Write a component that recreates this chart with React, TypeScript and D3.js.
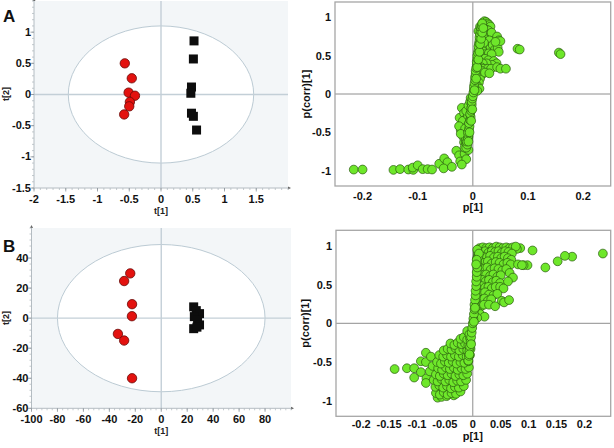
import React from 'react';
import * as d3 from 'd3';

type P = [number, number];

// ---------- Panel A : score plot ----------
const scoreATicksX = [-2, -1.5, -1, -0.5, 0, 0.5, 1, 1.5];
const scoreATicksY = [-1.5, -1, -0.5, 0, 0.5, 1];
const scoreARed: P[] = [
  [-0.57, 0.5], [-0.46, 0.26], [-0.51, 0.03], [-0.41, -0.02], [-0.49, -0.12], [-0.5, -0.19], [-0.58, -0.32],
];
const scoreABlack: P[] = [
  [0.52, 0.86], [0.51, 0.57], [0.48, 0.12], [0.47, 0.02], [0.48, -0.3], [0.51, -0.35], [0.56, -0.57],
];

// ---------- Panel B : score plot ----------
const scoreBTicksX = [-100, -80, -60, -40, -20, 0, 20, 40, 60, 80];
const scoreBTicksY = [-60, -40, -20, 0, 20, 40];
const scoreBRed: P[] = [
  [-23.9, 29.8], [-28.6, 24.7], [-22.5, 9.3], [-22.6, 1.3], [-33.4, -10.5], [-28.6, -14.9], [-22.5, -40],
];
const scoreBBlack: P[] = [
  [25, 7.5], [27, 5], [29.5, 3], [25.5, 1], [28, -1.5], [29.5, -4.5], [25, -7], [27.5, -6],
];

// ---------- Panel A : loadings S-plot ----------
const loadTicksAX = [-0.2, -0.1, 0, 0.1, 0.2];
const loadTicksY = [-1, -0.5, 0, 0.5, 1];
const loadingsA: P[] = [
  // lower tail
  [-0.216, -0.986], [-0.2, -0.985], [-0.144, -0.99], [-0.132, -0.98], [-0.117, -0.985], [-0.108, -0.99],
  [-0.109, -0.96], [-0.1, -0.93], [-0.091, -0.98], [-0.082, -0.98], [-0.074, -0.985], [-0.061, -0.91],
  [-0.052, -0.84], [-0.046, -0.89], [-0.053, -0.97], [-0.038, -0.95], [-0.03, -0.74], [-0.025, -0.8],
  [-0.023, -0.88], [-0.015, -0.78], [-0.008, -0.73], [-0.012, -0.85], [-0.02, -0.92],
  // negative middle
  [-0.024, -0.31], [-0.02, -0.18], [-0.019, -0.4], [-0.022, -0.47], [-0.014, -0.5], [-0.016, -0.63],
  [-0.013, -0.66], [-0.008, -0.56], [-0.016, -0.25], [-0.012, -0.32], [-0.018, -0.35], [-0.01, -0.42],
  [-0.025, -0.42], [-0.014, -0.45], [-0.011, -0.54], [-0.017, -0.56], [-0.013, -0.6], [-0.022, -0.52],
  [-0.009, -0.28], [-0.006, -0.2], [-0.012, -0.22], [-0.008, -0.15], [-0.005, -0.1], [-0.004, -0.05],
  [-0.015, -0.7],
  // upper spread
  [0.081, 0.59], [0.085, 0.58], [0.156, 0.54], [0.159, 0.52],
  [0.018, 0.93], [0.021, 0.95], [0.024, 0.94], [0.027, 0.92], [0.022, 0.9], [0.026, 0.88], [0.03, 0.9],
  [0.032, 0.88], [0.02, 0.85], [0.024, 0.84], [0.028, 0.83], [0.019, 0.8], [0.023, 0.78], [0.027, 0.76],
  [0.031, 0.78], [0.035, 0.76], [0.038, 0.74], [0.034, 0.8], [0.044, 0.75], [0.047, 0.7], [0.021, 0.72],
  [0.025, 0.68], [0.03, 0.7], [0.017, 0.68], [0.02, 0.62], [0.026, 0.62], [0.032, 0.6], [0.036, 0.64],
  [0.04, 0.58], [0.045, 0.6], [0.047, 0.55], [0.018, 0.56], [0.023, 0.52], [0.029, 0.53], [0.034, 0.52],
  [0.016, 0.48], [0.022, 0.46], [0.028, 0.44], [0.038, 0.43], [0.043, 0.4], [0.035, 0.38], [0.025, 0.4],
  [0.018, 0.4], [0.015, 0.35], [0.02, 0.33], [0.027, 0.33], [0.033, 0.33], [0.044, 0.35], [0.05, 0.33],
  [0.06, 0.33], [0.012, 0.28], [0.016, 0.25], [0.013, 0.2], [0.011, 0.15], [0.009, 0.1], [0.012, 0.07],
  [0.008, 0.04], [0.016, 0.3], [0.022, 0.28], [0.03, 0.27], [0.05, 0.69], [0.041, 0.68], [0.01, 0.82],
  [0.013, 0.88], [0.02, 0.67],
  // dense stem
  [-0.012, -0.7], [-0.01, -0.66], [-0.011, -0.62], [-0.009, -0.58], [-0.008, -0.54], [-0.009, -0.5],
  [-0.007, -0.46], [-0.006, -0.42], [-0.007, -0.38], [-0.005, -0.34], [-0.004, -0.3], [-0.005, -0.26],
  [-0.003, -0.22], [-0.003, -0.18], [-0.002, -0.14], [-0.002, -0.1], [-0.001, -0.06], [0.0, -0.03],
  [0.001, 0.02], [0.002, 0.06], [0.002, 0.1], [0.003, 0.14], [0.004, 0.18], [0.004, 0.22], [0.005, 0.26],
  [0.005, 0.3], [0.006, 0.34], [0.007, 0.38], [0.007, 0.42], [0.008, 0.46], [0.008, 0.5], [0.009, 0.54],
  [0.01, 0.58], [0.01, 0.62], [0.011, 0.66], [0.012, 0.7], [0.012, 0.74], [0.013, 0.78], [0.014, 0.82],
  [0.015, 0.86], [0.016, 0.89], [0.017, 0.92], [-0.008, -0.62], [-0.006, -0.5], [-0.003, -0.35],
  [-0.001, -0.2], [0.003, 0.05], [0.006, 0.2], [0.008, 0.35], [0.01, 0.45], [0.012, 0.55], [0.013, 0.65],
  [0.015, 0.72], [0.017, 0.8], [0.019, 0.86],
];

// ---------- Panel B : loadings S-plot ----------
const loadTicksBX = [-0.2, -0.15, -0.1, -0.05, 0, 0.05, 0.1, 0.15, 0.2];
const loadingsB: P[] = [
  // left outliers
  [-0.14, -0.59], [-0.118, -0.58], [-0.105, -0.58], [-0.105, -0.7], [-0.093, -0.63], [-0.084, -0.38],
  [-0.093, -0.49], [-0.084, -0.5], [-0.075, -0.43], [-0.083, -0.71], [-0.084, -0.77], [-0.077, -0.62],
  [-0.072, -0.55],
  // lower cluster
  [-0.063, -0.96], [-0.056, -0.95], [-0.047, -0.94], [-0.034, -0.93],
  [-0.066, -0.9], [-0.059, -0.92], [-0.052, -0.89], [-0.045, -0.92], [-0.038, -0.9], [-0.03, -0.91], [-0.022, -0.88],
  [-0.067, -0.82], [-0.06, -0.8], [-0.053, -0.83], [-0.046, -0.81], [-0.039, -0.84], [-0.032, -0.82], [-0.025, -0.83], [-0.016, -0.81],
  [-0.07, -0.73], [-0.063, -0.75], [-0.056, -0.72], [-0.049, -0.75], [-0.042, -0.73], [-0.035, -0.76], [-0.028, -0.74], [-0.021, -0.75], [-0.012, -0.73],
  [-0.066, -0.66], [-0.059, -0.68], [-0.052, -0.65], [-0.045, -0.67], [-0.038, -0.65], [-0.031, -0.68], [-0.024, -0.66], [-0.017, -0.67], [-0.01, -0.65],
  [-0.062, -0.58], [-0.055, -0.6], [-0.048, -0.57], [-0.041, -0.59], [-0.034, -0.57], [-0.027, -0.6], [-0.02, -0.58], [-0.013, -0.59], [-0.007, -0.57],
  [-0.064, -0.5], [-0.057, -0.52], [-0.05, -0.49], [-0.043, -0.51], [-0.036, -0.49], [-0.029, -0.52], [-0.022, -0.5], [-0.015, -0.51], [-0.008, -0.49],
  [-0.06, -0.41], [-0.053, -0.43], [-0.046, -0.41], [-0.039, -0.43], [-0.032, -0.41], [-0.025, -0.43], [-0.018, -0.41], [-0.011, -0.43], [-0.005, -0.41],
  [-0.052, -0.35], [-0.045, -0.33], [-0.038, -0.34], [-0.031, -0.32], [-0.024, -0.35], [-0.017, -0.33], [-0.01, -0.35], [-0.004, -0.33],
  [-0.04, -0.26], [-0.033, -0.28], [-0.027, -0.25], [-0.02, -0.27], [-0.014, -0.26], [-0.008, -0.28],
  [-0.022, -0.2], [-0.016, -0.18], [-0.01, -0.21], [-0.005, -0.19], [-0.01, -0.1], [-0.006, -0.14],
  // right outliers
  [0.233, 0.9], [0.178, 0.86], [0.165, 0.87], [0.152, 0.8], [0.13, 0.72], [0.107, 0.94], [0.085, 0.97],
  [0.098, 0.75], [0.091, 0.75], [0.079, 0.96],
  // upper cluster
  [0.012, 0.97], [0.018, 0.98], [0.024, 0.97], [0.03, 0.98], [0.036, 0.97], [0.042, 0.99], [0.048, 0.98],
  [0.054, 0.97], [0.06, 0.98], [0.066, 0.97], [0.072, 0.98], [0.077, 0.99],
  [0.015, 0.92], [0.022, 0.93], [0.028, 0.91], [0.034, 0.93], [0.04, 0.92], [0.046, 0.93], [0.052, 0.91],
  [0.058, 0.93], [0.064, 0.92], [0.07, 0.9],
  [0.018, 0.86], [0.025, 0.85], [0.031, 0.87], [0.038, 0.85], [0.045, 0.86], [0.051, 0.84], [0.057, 0.86],
  [0.063, 0.84], [0.069, 0.82],
  [0.014, 0.79], [0.02, 0.78], [0.027, 0.8], [0.034, 0.77], [0.041, 0.79], [0.048, 0.78], [0.055, 0.76],
  [0.062, 0.78], [0.068, 0.76], [0.081, 0.76], [0.088, 0.75],
  [0.013, 0.72], [0.019, 0.7], [0.026, 0.72], [0.032, 0.69], [0.039, 0.71], [0.046, 0.7], [0.053, 0.68], [0.06, 0.7],
  [0.012, 0.64], [0.018, 0.62], [0.024, 0.63], [0.031, 0.61], [0.037, 0.63], [0.044, 0.6], [0.05, 0.62],
  [0.066, 0.65], [0.072, 0.59],
  [0.012, 0.55], [0.017, 0.56], [0.023, 0.54], [0.029, 0.56], [0.036, 0.53], [0.042, 0.55], [0.049, 0.52], [0.063, 0.54],
  [0.011, 0.47], [0.016, 0.48], [0.022, 0.46], [0.028, 0.47], [0.034, 0.45], [0.041, 0.47], [0.049, 0.47], [0.055, 0.45],
  [0.011, 0.39], [0.016, 0.38], [0.022, 0.4], [0.029, 0.37], [0.037, 0.36], [0.044, 0.38],
  [0.01, 0.31], [0.015, 0.3], [0.021, 0.32], [0.027, 0.29], [0.033, 0.31], [0.052, 0.29], [0.056, 0.27], [0.065, 0.3],
  [0.01, 0.23], [0.015, 0.22], [0.02, 0.24], [0.029, 0.24], [0.04, 0.22],
  [0.009, 0.15], [0.013, 0.12], [0.021, 0.085], [0.008, 0.07],
  // dense stem
  [-0.008, -0.48], [-0.007, -0.42], [-0.006, -0.36], [-0.005, -0.3], [-0.004, -0.24], [-0.003, -0.18],
  [-0.002, -0.12], [-0.001, -0.06], [0.0, 0.0], [0.001, 0.06], [0.002, 0.12], [0.003, 0.18], [0.003, 0.24],
  [0.004, 0.3], [0.005, 0.36], [0.005, 0.42], [0.006, 0.48], [0.006, 0.54], [0.007, 0.6], [0.007, 0.66],
  [0.008, 0.72], [0.008, 0.78], [0.008, 0.84], [0.009, 0.88], [0.009, 0.92], [0.008, 0.95], [0.01, 0.86],
  [0.011, 0.9], [0.007, 0.82], [0.006, 0.76], [0.004, 0.2], [0.002, 0.02], [-0.003, -0.27], [-0.006, -0.4],
];

const FONT = '"Liberation Sans", Arial, sans-serif';

interface ScoreProps {
  xDomain: [number, number]; yDomain: [number, number];
  xRange: [number, number]; yRange: [number, number];
  xTicks: number[]; yTicks: number[]; minorX: number; minorY: number;
  ell: [number, number]; red: P[]; black: P[];
  letter: string; letterY: number; yTitleY: number;
}

function ScorePlot(p: ScoreProps) {
  const xs = d3.scaleLinear().domain(p.xDomain).range(p.xRange);
  const ys = d3.scaleLinear().domain(p.yDomain).range(p.yRange);
  const [x0, x1] = p.xRange;
  const [yb, yt] = p.yRange;
  const minX = d3.range(p.xDomain[0], p.xDomain[1] + 1e-9, p.minorX);
  const minY = d3.range(p.yDomain[0], p.yDomain[1] + 1e-9, p.minorY);
  const axisC = '#b4bcc2';
  return (
    <g fontFamily={FONT}>
      <rect x={x0} y={yt} width={x1 - x0} height={yb - yt} fill="#f3f6f8" />
      <ellipse cx={xs(0)} cy={ys(0)} rx={xs(p.ell[0]) - xs(0)} ry={ys(0) - ys(p.ell[1])}
        fill="#ffffff" stroke="#bccbd4" strokeWidth={1} />
      <line x1={xs(0)} x2={xs(0)} y1={yt} y2={yb} stroke="#c3cfd7" strokeWidth={1.4} />
      <line x1={x0} x2={x1} y1={ys(0)} y2={ys(0)} stroke="#c3cfd7" strokeWidth={1.4} />
      <line x1={x0} x2={x0} y1={yt} y2={yb} stroke={axisC} strokeWidth={1} />
      <line x1={x0} x2={x1} y1={yb} y2={yb} stroke={axisC} strokeWidth={1} />
      <path d={`M${x1},${yb - 1.5}L${x1 + 3},${yb}L${x1},${yb + 1.5}Z`} fill="#666" />
      <path d={`M${x0 - 1.5},${yt}L${x0},${yt - 3}L${x0 + 1.5},${yt}Z`} fill="#666" />
      {minX.map((v, i) => (
        <line key={'mx' + i} x1={xs(v)} x2={xs(v)} y1={yb} y2={yb + 2} stroke={axisC} strokeWidth={0.8} />
      ))}
      {minY.map((v, i) => (
        <line key={'my' + i} x1={x0} x2={x0 - 2} y1={ys(v)} y2={ys(v)} stroke={axisC} strokeWidth={0.8} />
      ))}
      {p.xTicks.map((v) => (
        <g key={'xt' + v}>
          <line x1={xs(v)} x2={xs(v)} y1={yb} y2={yb + 3.5} stroke="#8a9298" strokeWidth={0.8} />
          <text x={xs(v)} y={yb + 14.5} textAnchor="middle" fontSize={11} fontWeight="bold" fill="#111">{String(v)}</text>
        </g>
      ))}
      {p.yTicks.map((v) => (
        <g key={'yt' + v}>
          <line x1={x0} x2={x0 - 3.5} y1={ys(v)} y2={ys(v)} stroke="#8a9298" strokeWidth={0.8} />
          <text x={x0 - 3} y={ys(v) + 3.5} textAnchor="end" fontSize={11} fontWeight="bold" fill="#111">{String(v)}</text>
        </g>
      ))}
      {p.red.map((d, i) => (
        <circle key={'r' + i} cx={xs(d[0])} cy={ys(d[1])} r={4.7} fill="#e3120f" stroke="#6a0a08" strokeWidth={0.8} />
      ))}
      {p.black.map((d, i) => (
        <rect key={'b' + i} x={xs(d[0]) - 4.5} y={ys(d[1]) - 4.5} width={9} height={9} fill="#0d0d0d" />
      ))}
      <text x={9} y={p.yTitleY} transform={`rotate(-90 9 ${p.yTitleY})`} textAnchor="middle" fontSize={9} fontWeight="bold" fill="#222">t[2]</text>
      <text x={xs(0)} y={yb + 25.5} textAnchor="middle" fontSize={9} fontWeight="bold" fill="#222">t[1]</text>
      <text x={3} y={p.letterY} fontSize={17} fontWeight="bold" fill="#111">{p.letter}</text>
    </g>
  );
}

interface LoadProps {
  xDomain: [number, number]; xRange: [number, number]; yRange: [number, number];
  xTicks: number[]; pts: P[]; tickDy: number; titleDy: number;
}

function LoadingPlot(p: LoadProps) {
  const xs = d3.scaleLinear().domain(p.xDomain).range(p.xRange);
  const ys = d3.scaleLinear().domain([-1.2, 1.2]).range(p.yRange);
  const [x0, x1] = p.xRange;
  const [yb, yt] = p.yRange;
  const cy = (yb + yt) / 2;
  return (
    <g fontFamily={FONT}>
      <rect x={x0} y={yt} width={x1 - x0} height={yb - yt} fill="#ffffff" />
      <line x1={xs(0)} x2={xs(0)} y1={yt} y2={yb} stroke="#8e8e8e" strokeWidth={1} />
      <line x1={x0} x2={x1} y1={ys(0)} y2={ys(0)} stroke="#8e8e8e" strokeWidth={1} />
      {p.pts.map((d, i) => (
        <circle key={i} cx={xs(d[0])} cy={ys(d[1])} r={4.4} fill="#6ee72a" stroke="#2a5a10" strokeWidth={0.7} />
      ))}
      <rect x={x0} y={yt} width={x1 - x0} height={yb - yt} fill="none" stroke="#a6a6a6" strokeWidth={1.3} />
      {p.xTicks.map((v) => (
        <text key={'x' + v} x={xs(v)} y={yb + p.tickDy} textAnchor="middle" fontSize={11} fontWeight="bold" fill="#111">{String(v)}</text>
      ))}
      {loadTicksY.map((v) => (
        <text key={'y' + v} x={x0 - 4} y={ys(v) + 4} textAnchor="end" fontSize={11} fontWeight="bold" fill="#111">{String(v)}</text>
      ))}
      <text x={306} y={cy} transform={`rotate(-90 306 ${cy})`} dy={3.5} textAnchor="middle" fontSize={11} fontWeight="bold" fill="#111">p(corr)[1]</text>
      <text x={xs(0)} y={yb + p.titleDy} textAnchor="middle" fontSize={11} fontWeight="bold" fill="#111">p[1]</text>
    </g>
  );
}

export default function App() {
  return (
    <svg width={614} height={448} viewBox="0 0 614 448"
      style={{ position: 'absolute', left: 0, top: 0, background: '#fff' }}>
      <rect width={614} height={448} fill="#fff" />
      <ScorePlot xDomain={[-2, 2]} yDomain={[-1.5, 1.5]} xRange={[34, 288]} yRange={[188, 1]}
        xTicks={scoreATicksX} yTicks={scoreATicksY} minorX={0.1} minorY={0.1}
        ell={[1.46, 1.1]} red={scoreARed} black={scoreABlack} letter="A" letterY={22} yTitleY={94} />
      <ScorePlot xDomain={[-100, 100]} yDomain={[-60, 60]} xRange={[31.5, 291]} yRange={[408.3, 228]}
        xTicks={scoreBTicksX} yTicks={scoreBTicksY} minorX={4} minorY={4}
        ell={[80, 49]} red={scoreBRed} black={scoreBBlack} letter="B" letterY={252} yTitleY={318} />
      <LoadingPlot xDomain={[-0.25, 0.25]} xRange={[335, 610.7]} yRange={[186, 2]}
        xTicks={loadTicksAX} pts={loadingsA} tickDy={14} titleDy={25} />
      <LoadingPlot xDomain={[-0.245, 0.247]} xRange={[336, 610.7]} yRange={[416.3, 230.3]}
        xTicks={loadTicksBX} pts={loadingsB} tickDy={12} titleDy={24} />
    </svg>
  );
}
